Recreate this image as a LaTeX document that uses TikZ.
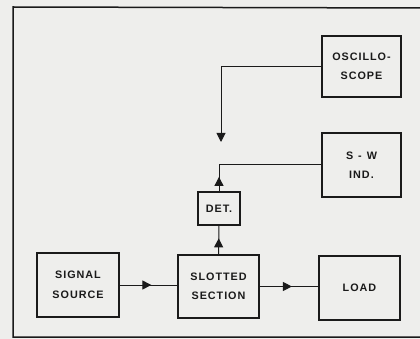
\documentclass[tikz,border=0pt]{standalone}
\usepackage{fontspec}
\setmainfont{Liberation Sans}
\newfontfamily\boxfont[LetterSpace=9]{Liberation Sans}
\usetikzlibrary{arrows.meta,decorations.markings}
\definecolor{paper}{HTML}{EEEEEC}
\definecolor{ink}{HTML}{1A1A1A}
\tikzset{
  blk/.style={draw=ink, line width=2pt, rectangle, inner sep=0pt, align=center,
    font=\boxfont\bfseries\fontsize{10.8}{19.5}\selectfont, text=ink},
  conn/.style={draw=ink, line width=1pt},
  midarrow/.style={conn, postaction={decorate}, decoration={markings,
    mark=at position 0.55 with {\arrow{Triangle[length=9pt,width=9pt]}}}},
  endarrow/.style={conn, -{Triangle[length=9pt,width=9pt]}}
}
\begin{document}
\begin{tikzpicture}[x=1pt,y=-1pt]
\fill[paper] (0,0) rectangle (420,339);
\useasboundingbox (0,0) rectangle (420,339);
\draw[ink, line width=1.5pt] (430,8) -- (13,7) -- (13,337) -- (430,337);
\node[blk, minimum width=79pt, minimum height=61pt] (osc) at (361.5,66.5) {OSCILLO-\\SCOPE};
\node[blk, minimum width=79pt, minimum height=64pt] (sw) at (361.5,165) {S\hspace{5pt}-\hspace{5pt}W\\IND.};
\node[blk, minimum width=42pt, minimum height=32pt] (det) at (219,208.5) {DET.};
\node[blk, minimum width=81pt, minimum height=63pt] (slot) at (218.5,286.5) {SLOTTED\\SECTION};
\node[blk, minimum width=82pt, minimum height=64pt] (src) at (78,285) {SIGNAL\\SOURCE};
\node[blk, minimum width=81pt, minimum height=64pt] (load) at (359.5,288) {LOAD};
\coordinate (tip) at (221,142);
\draw[endarrow] (osc.west) -| (tip);
\coordinate (j) at (det.north |- sw.west);
\draw[conn] (sw.west) -- (j);
\draw[midarrow] (det.north) -- (j);
\draw[midarrow] (slot.north) -- (det.south);
\draw[midarrow] (src.east) -- (src.east -| slot.west);
\draw[midarrow] (slot.east) -- (slot.east -| load.west);
\end{tikzpicture}
\end{document}
